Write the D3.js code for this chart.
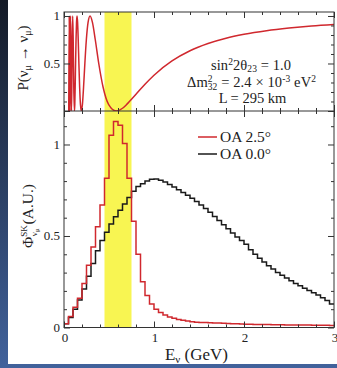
<!DOCTYPE html>
<html><head><meta charset="utf-8">
<script src="https://cdn.jsdelivr.net/npm/d3@7"></script>
<style>
html,body{margin:0;padding:0;background:#1b2333;}
svg{display:block;}
</style></head>
<body>
<svg id="c" width="337" height="368" font-family="'Liberation Serif', 'DejaVu Serif', serif"></svg>
<script>
// ---------- data ----------
// survival probability curve [E (GeV), P]
const probE = [0.0527,0.0579,0.0644,0.0668,0.0695,0.0724,0.0756,0.0790,0.0828,0.0869,0.0915,0.0966,0.1022,0.1086,0.1159,
  0.1199,0.1242,0.1287,0.1337,0.1390,0.1448,0.1511,0.1580,0.1655,0.1738,0.1830,0.1931,
  0.2045,0.2173,0.2317,0.2483,0.2674,0.2897,0.3160,0.3476,0.3862,0.4345,0.4966,0.5793,
  0.65,0.70,0.80,0.90,1.00,1.20,1.40,1.60,1.80,2.00,2.25,2.50,2.75,3.00];
const probP = [0,1,0,0.25,0.75,1,0.75,0.25,0,0.25,0.75,1,0.75,0.25,0,
  0.067,0.25,0.5,0.75,0.933,1,0.933,0.75,0.5,0.25,0.067,0,
  0.067,0.25,0.5,0.75,0.933,1,0.933,0.75,0.5,0.25,0.067,0,
  0.029,0.072,0.176,0.282,0.377,0.527,0.634,0.710,0.766,0.807,0.845,0.873,0.895,0.911];
// flux histograms, 0.05 GeV bins from 0 to 3 GeV
const binWidth = 0.05;
const fluxOA25 = [0.02,0.06,0.11,0.16,0.24,0.34,0.44,0.55,0.67,0.815,
  1.05,1.125,1.105,1.005,0.815,0.58,0.40,0.25,0.175,0.128,
  0.10,0.082,0.068,0.058,0.05,0.044,0.039,0.035,0.032,0.029,
  0.028,0.027,0.026,0.025,0.024,0.023,0.022,0.021,0.02,0.019,
  0.018,0.018,0.017,0.017,0.016,0.016,0.015,0.015,0.015,0.014,
  0.014,0.014,0.013,0.013,0.013,0.012,0.012,0.012,0.012,0.011];
const fluxOA00 = [0.02,0.055,0.10,0.15,0.21,0.28,0.35,0.42,0.475,0.52,
  0.565,0.605,0.64,0.675,0.71,0.745,0.77,0.785,0.80,0.81,
  0.812,0.805,0.795,0.782,0.768,0.753,0.738,0.722,0.706,0.688,
  0.67,0.65,0.63,0.607,0.585,0.562,0.54,0.517,0.495,0.475,
  0.455,0.425,0.40,0.378,0.358,0.338,0.32,0.30,0.285,0.27,
  0.255,0.24,0.228,0.215,0.202,0.19,0.177,0.163,0.148,0.128];
const band = [0.45, 0.75];
const xMajor = [0,1,2,3];
const xMinor = [0.2,0.4,0.6,0.8,1.2,1.4,1.6,1.8,2.2,2.4,2.6,2.8];
const yTopMajor = [0,0.5,1];
const yTopMinor = [0.1,0.2,0.3,0.4,0.6,0.7,0.8,0.9];
const yBotMajor = [0,0.5,1];
const yBotMinor = [0.1,0.2,0.3,0.4,0.6,0.7,0.8,0.9,1.1];
const series = [{name:"OA 2.5°", values:fluxOA25, color:"#d0282e"},
                {name:"OA 0.0°", values:fluxOA00, color:"#1a1a1a"}];

// ---------- layout ----------
const FONT = "'Liberation Serif', 'Times New Roman', 'DejaVu Serif', serif";
const svg = d3.select("#c");
const W = 337, H = 368;
const L = 64, R = 334, T = 12, MID = 111, B = 327.5;

const defs = svg.append("defs");
const g = defs.append("linearGradient").attr("id","bg").attr("x1",0).attr("y1",0).attr("x2",0).attr("y2",1);
g.append("stop").attr("offset","0%").attr("stop-color","#141a26");
g.append("stop").attr("offset","100%").attr("stop-color","#41629c");
svg.append("rect").attr("width",W).attr("height",H).attr("fill","url(#bg)");
svg.append("rect").attr("x",8).attr("y",0).attr("width",W-8).attr("height",364).attr("fill","#fff");

const x = d3.scaleLinear().domain([0,3]).range([L,R]);
const yTop = d3.scaleLinear().domain([0,1.042]).range([MID,T]);
const yBot = d3.scaleLinear().domain([0,1.183]).range([B,MID]);

// yellow band
svg.append("rect").attr("x",x(band[0])).attr("y",T).attr("width",x(band[1])-x(band[0])).attr("height",B-T)
  .attr("fill","#f8f552");

// clip paths
defs.append("clipPath").attr("id","ct").append("rect").attr("x",L).attr("y",T).attr("width",R-L).attr("height",MID-T);
defs.append("clipPath").attr("id","cb").append("rect").attr("x",L).attr("y",MID).attr("width",R-L).attr("height",B-MID);

// top curve
const probPts = probE.map((e,i)=>[e,probP[i]]);
svg.append("path").attr("clip-path","url(#ct)")
  .attr("d", d3.line().x(d=>x(d[0])).y(d=>yTop(d[1])).curve(d3.curveMonotoneX)(probPts))
  .attr("fill","none").attr("stroke","#d0282e").attr("stroke-width",1.5);

// histograms
const stepLine = d3.line().x(d=>x(d[0])).y(d=>yBot(d[1])).curve(d3.curveStepAfter);
series.slice().reverse().forEach(s=>{
  const pts = [[0,0]];
  s.values.forEach((v,i)=>pts.push([i*binWidth, v]));
  pts.push([s.values.length*binWidth, s.values[s.values.length-1]]);
  svg.append("path").attr("clip-path","url(#cb)").attr("d", stepLine(pts))
    .attr("fill","none").attr("stroke",s.color).attr("stroke-width",1.5);
});

// axes (ticks inward)
function ax(gen, tx, ty, vals, size){
  const a = svg.append("g").attr("transform",`translate(${tx},${ty})`)
    .call(gen.tickValues(vals).tickSize(size).tickFormat(""));
  a.select(".domain").remove();
  a.selectAll("line").attr("stroke","#333");
  return a;
}
[[d3.axisTop,T],[d3.axisBottom,MID],[d3.axisTop,MID],[d3.axisBottom,B]].forEach(([f,ty])=>{
  ax(f(x), 0, ty, xMajor, -6);
  ax(f(x), 0, ty, xMinor, -3);
});
ax(d3.axisLeft(yTop), L, 0, yTopMajor, -6);
ax(d3.axisLeft(yTop), L, 0, yTopMinor, -3);
ax(d3.axisRight(yTop), R, 0, yTopMajor, -6);
ax(d3.axisRight(yTop), R, 0, yTopMinor, -3);
ax(d3.axisLeft(yBot), L, 0, yBotMajor, -6);
ax(d3.axisLeft(yBot), L, 0, yBotMinor, -3);
ax(d3.axisRight(yBot), R, 0, yBotMajor, -6);
ax(d3.axisRight(yBot), R, 0, yBotMinor, -3);

// frames
svg.append("rect").attr("x",L).attr("y",T).attr("width",R-L).attr("height",B-T)
  .attr("fill","none").attr("stroke","#333").attr("stroke-width",1);
svg.append("line").attr("x1",L).attr("x2",R).attr("y1",MID).attr("y2",MID).attr("stroke","#333");

function txt(){ return svg.append("text").attr("font-family",FONT).attr("fill","#222"); }

// tick labels
const fs = 13;
yTopMajor.filter(v=>v>0).forEach(v=>{
  txt().attr("x",L-4).attr("y",yTop(v)+4.5).attr("text-anchor","end")
    .attr("font-size",fs).text(v===0.5?"0.5":"1");
});
yBotMajor.forEach(v=>{
  txt().attr("x",L-4).attr("y",yBot(v)+4.5).attr("text-anchor","end")
    .attr("font-size",fs).text(v===0.5?"0.5":String(v));
});
xMajor.forEach(v=>{
  txt().attr("x",x(v)+1).attr("y",B+14).attr("text-anchor","middle")
    .attr("font-size",fs).text(String(v));
});

// axis titles
const t1 = txt().attr("transform","translate(28,58) rotate(-90)").attr("text-anchor","middle").attr("font-size",15);
t1.append("tspan").text("P(ν");
t1.append("tspan").attr("dy",3).attr("font-size",10).text("μ");
t1.append("tspan").attr("dy",-3).text(" → ν");
t1.append("tspan").attr("dy",3).attr("font-size",10).text("μ");
t1.append("tspan").attr("dy",-3).text(")");

const t2 = txt().attr("transform","translate(33,216) rotate(-90)").attr("text-anchor","middle").attr("font-size",15.5);
t2.append("tspan").text("Φ");
t2.append("tspan").attr("dy",-6).attr("font-size",9).text("SK");
t2.append("tspan").attr("dx",-11).attr("dy",10).attr("font-size",9).text("ν");
t2.append("tspan").attr("dy",2).attr("font-size",7).text("μ");
t2.append("tspan").attr("dy",-6).text(" (A.U.)");

const t3 = txt().attr("x",196.5).attr("y",360).attr("text-anchor","middle").attr("font-size",17);
t3.append("tspan").text("E");
t3.append("tspan").attr("dy",3).attr("font-size",11).text("ν");
t3.append("tspan").attr("dy",-3).text(" (GeV)");

// annotation
const a1 = txt().attr("x",251).attr("y",70).attr("text-anchor","middle").attr("font-size",14.5)
  .attr("textLength",80).attr("lengthAdjust","spacing");
a1.append("tspan").text("sin");
a1.append("tspan").attr("dy",-5).attr("font-size",9.5).text("2");
a1.append("tspan").attr("dy",5).text("2θ");
a1.append("tspan").attr("dy",2).attr("font-size",9.5).text("23");
a1.append("tspan").attr("dy",-2).text(" = 1.0");
const a2 = txt().attr("x",251.5).attr("y",86.5).attr("text-anchor","middle").attr("font-size",14.5)
  .attr("textLength",129).attr("lengthAdjust","spacing");
a2.append("tspan").text("Δm");
a2.append("tspan").attr("dy",-4.5).attr("font-size",9.5).text("2");
a2.append("tspan").attr("dx",-5).attr("dy",7.5).attr("font-size",9.5).text("32");
a2.append("tspan").attr("dy",-3).text(" = 2.4 × 10");
a2.append("tspan").attr("dy",-5).attr("font-size",9.5).text("-3");
a2.append("tspan").attr("dy",5).text(" eV");
a2.append("tspan").attr("dy",-5).attr("font-size",9.5).text("2");
txt().attr("x",252.5).attr("y",102.5).attr("text-anchor","middle").attr("font-size",14.5).text("L = 295 km");

// legend
series.forEach((s,i)=>{
  const yy = 137 + i*17;
  svg.append("line").attr("x1",198).attr("x2",217).attr("y1",yy).attr("y2",yy).attr("stroke",s.color).attr("stroke-width",1.5);
  txt().attr("x",220).attr("y",yy+5).attr("font-size",15.5).text(s.name);
});
</script>
</body></html>
